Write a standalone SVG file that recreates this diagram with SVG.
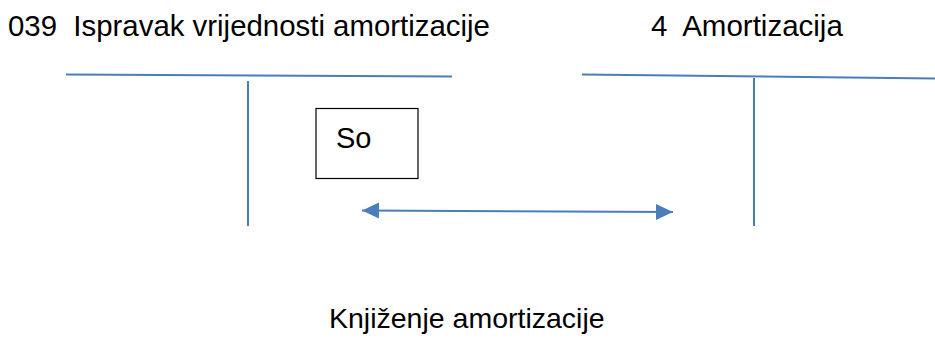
<svg xmlns="http://www.w3.org/2000/svg" width="935" height="340" viewBox="0 0 935 340">
<style>
text{font-family:"Liberation Sans",Arial,sans-serif;fill:#000}
.ln{stroke:#4a7ebb;stroke-width:2;fill:none}
</style>
<defs>
<marker id="ah" markerUnits="userSpaceOnUse" markerWidth="17" markerHeight="17" refX="17" refY="8.5" orient="auto-start-reverse" viewBox="0 0 17 17">
<path d="M0,0.5 L17,8.5 L0,16.5 Z" fill="#4a7ebb"/>
</marker>
</defs>
<rect width="935" height="340" fill="#fff"/>
<g id="account-039">
<text x="8" y="36" font-size="29.4" xml:space="preserve">039  Ispravak vrijednosti amortizacije</text>
<line class="ln" x1="66" y1="74.5" x2="452" y2="76.5"/>
<line class="ln" x1="248" y1="81" x2="248" y2="226"/>
</g>
<g id="account-4">
<text x="651" y="36" font-size="29.5" xml:space="preserve">4  Amortizacija</text>
<line class="ln" x1="582" y1="74.5" x2="935" y2="78.5"/>
<line class="ln" x1="754" y1="78" x2="754" y2="226"/>
</g>
<g id="so-box">
<rect x="316" y="108.5" width="102" height="70" fill="#fff" stroke="#000" stroke-width="1.2"/>
<text x="336" y="148" font-size="29">So</text>
</g>
<g id="connectors">
<line class="ln" x1="362" y1="210.5" x2="673" y2="212" marker-start="url(#ah)" marker-end="url(#ah)"/>
</g>
<g id="caption">
<text x="329" y="328" font-size="28.5">Knjiženje amortizacije</text>
</g>
</svg>
